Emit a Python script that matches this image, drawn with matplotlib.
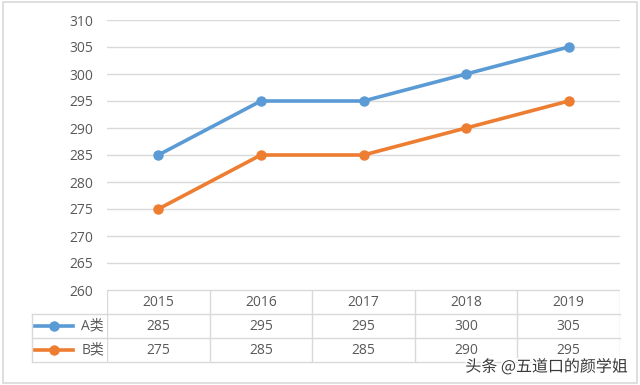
import matplotlib.pyplot as plt
import matplotlib.patheffects as pe
from matplotlib.patches import Rectangle
from matplotlib.lines import Line2D

plt.rcParams['font.family'] = ['Open Sans', 'Noto Sans CJK SC', 'DejaVu Sans']

years = ["2015", "2016", "2017", "2018", "2019"]
series_names = ["A类", "B类"]
a_values = [285, 295, 295, 300, 305]
b_values = [275, 285, 285, 290, 295]
colors = ["#5B9BD5", "#ED7D31"]
text_color = "#595959"
grid_color = "#D9D9D9"


def main():
    fig = plt.figure(figsize=(6.4, 3.85), dpi=100)

    # frame around the whole chart
    fig.patches.append(Rectangle((0.004, 0.005), 0.991, 0.99, transform=fig.transFigure,
                                 fill=False, edgecolor=grid_color, linewidth=1.2))

    W, H = 640, 385
    left, right = 107 / W, 620 / W
    ax = fig.add_axes([left, 1 - 290 / H, right - left, 270 / H])
    x = list(range(len(years)))

    for vals, c in zip([a_values, b_values], colors):
        ax.plot(x, vals, color=c, linewidth=2.6, marker="o", markersize=6.5, zorder=3)

    ax.set_xlim(-0.5, len(years) - 0.5)
    ax.set_ylim(260, 310)
    ax.set_yticks(range(260, 311, 5))
    ax.set_xticks([])
    ax.grid(axis="y", color=grid_color, linewidth=1)
    for s in ax.spines.values():
        s.set_visible(False)
    ax.tick_params(axis="y", length=0, pad=10, labelsize=10, labelcolor=text_color)

    # data table below the plot
    tax = fig.add_axes([left, 1 - 362 / H, right - left, 72 / H])
    tax.set_xlim(-0.5, len(years) - 0.5)
    tax.set_ylim(0, 3)
    tax.axis("off")

    legend_left = -0.5 - (107 - 32) / 102.6
    lw = 1
    # horizontal lines
    tax.plot([-0.5, 4.5], [3, 3], color=grid_color, lw=lw)
    for yy in [2, 1, 0]:
        tax.plot([legend_left, 4.5], [yy, yy], color=grid_color, lw=lw, clip_on=False)
    # vertical lines
    tax.plot([legend_left, legend_left], [0, 2], color=grid_color, lw=lw, clip_on=False)
    for k in range(len(years) + 1):
        tax.plot([k - 0.5, k - 0.5], [0, 3], color=grid_color, lw=lw)

    for i, yr in enumerate(years):
        tax.text(i, 2.5, yr, ha="center", va="center", fontsize=10, color=text_color)
        tax.text(i, 1.5, str(a_values[i]), ha="center", va="center", fontsize=10, color=text_color)
        tax.text(i, 0.5, str(b_values[i]), ha="center", va="center", fontsize=10, color=text_color)

    # legend keys inside the table
    key_x0 = legend_left + 3 / 102.6
    key_x1 = legend_left + 41 / 102.6
    for row, name, c in zip([1.5, 0.5], series_names, colors):
        tax.add_line(Line2D([key_x0, key_x1], [row, row], color=c, lw=2.6,
                            clip_on=False))
        tax.plot([(key_x0 + key_x1) / 2], [row], marker="o", color=c,
                 markersize=6.5, clip_on=False)
        tax.text(-0.5 - 3 / 102.6, row, name, ha="right", va="center",
                 fontsize=10, color=text_color, clip_on=False)

    # watermark
    fig.text(628 / W, 1 - 367 / H, "头条 @五道口的颜学姐", ha="right", va="center",
             fontsize=11.5, color="#3a3a3a",
             family=["Noto Sans CJK SC", "DejaVu Sans"],
             path_effects=[pe.withStroke(linewidth=2.5, foreground="white")])

    fig.savefig("out.png", dpi=100)


if __name__ == "__main__":
    main()
